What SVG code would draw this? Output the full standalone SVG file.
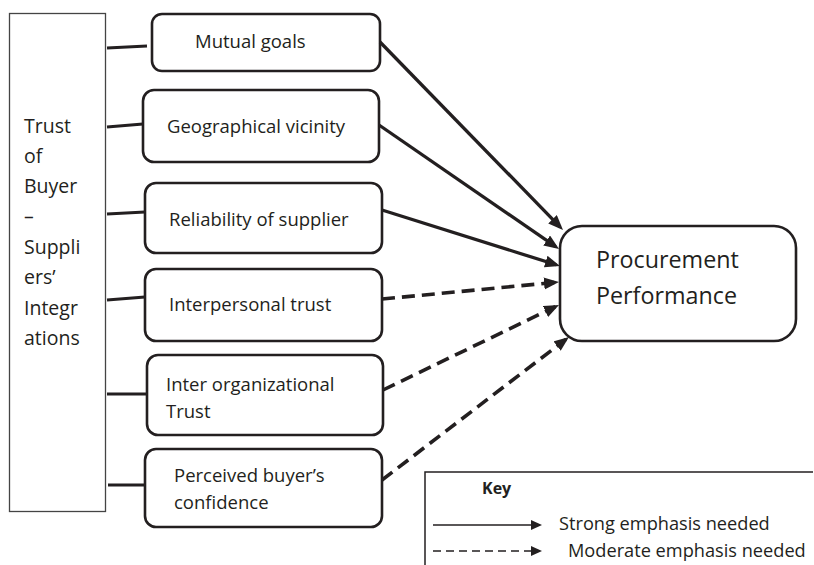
<svg xmlns="http://www.w3.org/2000/svg" width="814" height="565" viewBox="0 0 814 565">
<style>
text{font-family:"Open Sans","Noto Sans","Liberation Sans",sans-serif;fill:#231f20}
.t{font-size:18.5px}
.side{font-size:19.5px}
.big{font-size:23.3px}
.key{font-size:16px;font-weight:bold}
.lg{font-size:18.2px}
.box{fill:#fff;stroke:#231f20;stroke-width:2.6}
.link{stroke:#231f20;stroke-width:2.8;fill:none}
.solid{stroke:#231f20;stroke-width:3.3;fill:none}
.dash{stroke:#231f20;stroke-width:3.6;fill:none;stroke-dasharray:13 7}
.kline{stroke:#231f20;stroke-width:1.5;fill:none}
</style>
<defs>
<marker id="ah" markerUnits="userSpaceOnUse" markerWidth="17" markerHeight="13" refX="11" refY="6" orient="auto">
<path d="M0,0 L15,6 L0,12 z" fill="#231f20"/>
</marker>
<marker id="ahs" markerUnits="userSpaceOnUse" markerWidth="13" markerHeight="11" refX="9" refY="5" orient="auto">
<path d="M0,0 L11,5 L0,10 z" fill="#231f20"/>
</marker>
</defs>

<g id="trust">
<rect x="9.5" y="13.5" width="96" height="498" fill="#fff" stroke="#444" stroke-width="1.3"/>
<text class="side" x="24" y="133">Trust</text>
<text class="side" x="24" y="163">of</text>
<text class="side" x="24" y="193">Buyer</text>
<text class="side" x="24" y="223">–</text>
<text class="side" x="24" y="254">Suppli</text>
<text class="side" x="24" y="284">ers’</text>
<text class="side" x="24" y="315">Integr</text>
<text class="side" x="24" y="345">ations</text>
</g>

<g id="mutual">
<rect class="box" x="152" y="14" width="228" height="57" rx="10"/>
<text class="t" x="195" y="48">Mutual goals</text>
</g>
<g id="geo">
<rect class="box" x="143" y="90" width="236" height="72" rx="11"/>
<text class="t" x="167" y="133">Geographical vicinity</text>
</g>
<g id="reliability">
<rect class="box" x="145" y="183" width="237" height="70" rx="11"/>
<text class="t" x="169" y="226">Reliability of supplier</text>
</g>
<g id="interpersonal">
<rect class="box" x="145" y="269" width="237" height="72" rx="11"/>
<text class="t" x="169" y="311">Interpersonal trust</text>
</g>
<g id="interorg">
<rect class="box" x="147" y="355" width="236" height="80" rx="11"/>
<text class="t" x="166" y="391">Inter organizational</text>
<text class="t" x="166" y="418">Trust</text>
</g>
<g id="perceived">
<rect class="box" x="145" y="449" width="237" height="78" rx="11"/>
<text class="t" x="174" y="482">Perceived buyer’s</text>
<text class="t" x="174" y="509">confidence</text>
</g>
<g id="procurement">
<rect class="box" x="560" y="226" width="236" height="115" rx="22"/>
<text class="big" x="596" y="268">Procurement</text>
<text class="big" x="596" y="304">Performance</text>
</g>

<g id="connectors">
<line class="link" x1="107" y1="48" x2="147" y2="46"/>
<line class="link" x1="107" y1="127" x2="143" y2="124"/>
<line class="link" x1="107" y1="214" x2="145" y2="212"/>
<line class="link" x1="107" y1="300" x2="145" y2="297"/>
<line class="link" x1="107" y1="394" x2="147" y2="394"/>
<line class="link" x1="108" y1="485" x2="145" y2="485"/>

<line class="solid" x1="380" y1="42" x2="560.2" y2="227.1" marker-end="url(#ah)"/>
<line class="solid" x1="379" y1="125" x2="555.7" y2="246.7" marker-end="url(#ah)"/>
<line class="solid" x1="382" y1="210" x2="556.2" y2="264.8" marker-end="url(#ah)"/>
<line class="dash" x1="382" y1="299" x2="555" y2="282.4" marker-end="url(#ah)"/>
<line class="dash" x1="383" y1="390" x2="555.4" y2="306.7" marker-end="url(#ah)"/>
<line class="dash" x1="382" y1="480" x2="565.8" y2="339.4" marker-end="url(#ah)"/>
</g>

<g id="legend">
<path d="M425,566 V472 H813" fill="none" stroke="#231f20" stroke-width="1.5"/>
<text class="key" x="482" y="494">Key</text>
<line class="kline" x1="433" y1="525" x2="540" y2="525" marker-end="url(#ahs)"/>
<text class="lg" x="559" y="530">Strong emphasis needed</text>
<line class="kline" x1="433" y1="551" x2="540" y2="551" stroke-dasharray="8 5" marker-end="url(#ahs)"/>
<text class="lg" x="568" y="557">Moderate emphasis needed</text>
</g>
</svg>
